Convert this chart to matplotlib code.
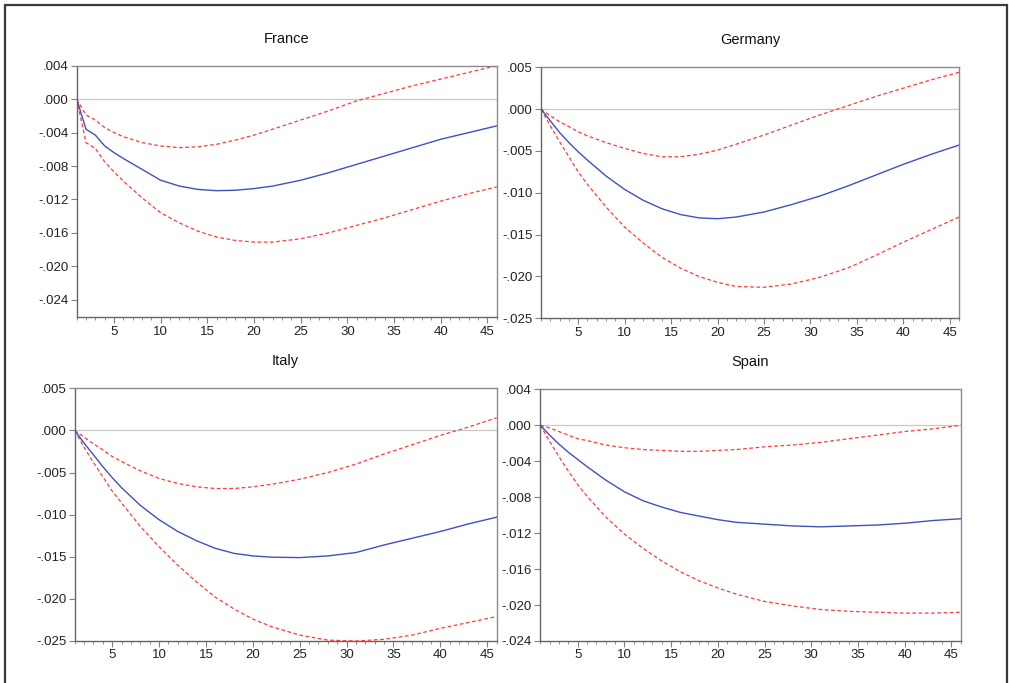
import matplotlib
matplotlib.use("Agg")
import matplotlib.pyplot as plt
from matplotlib.patches import Rectangle
from matplotlib.ticker import FuncFormatter, MultipleLocator

plt.rcParams['font.family'] = ['Liberation Sans', 'DejaVu Sans']

# horizon points
steps = [1, 2, 3, 4, 5, 6, 8, 10, 12, 14, 16, 18, 20, 22, 25, 28, 31, 34, 37, 40, 43, 46]

# France
fr_resp = [0, -0.0036, -0.0043, -0.0056, -0.0064, -0.0071, -0.0084, -0.0097, -0.0104, -0.0108, -0.01095,
           -0.0109, -0.0107, -0.0104, -0.0097, -0.0088, -0.0078, -0.0068, -0.0058, -0.0048, -0.0040, -0.0032]
fr_up = [0, -0.0019, -0.0025, -0.0034, -0.0040, -0.0045, -0.0052, -0.0056, -0.0058, -0.0057, -0.0054,
         -0.0049, -0.0043, -0.0036, -0.0025, -0.0014, -0.0002, 0.0007, 0.0016, 0.0024, 0.0032, 0.0040]
fr_lo = [0, -0.0052, -0.0059, -0.0075, -0.0087, -0.0098, -0.0118, -0.0136, -0.0148, -0.0158, -0.0165,
         -0.0169, -0.0171, -0.0171, -0.0167, -0.0160, -0.0151, -0.0142, -0.0132, -0.0122, -0.0113, -0.0105]

# Germany
de_resp = [0, -0.0014, -0.0028, -0.0040, -0.0051, -0.0061, -0.0080, -0.0096, -0.0109, -0.0119, -0.0126,
           -0.0130, -0.0131, -0.0129, -0.0123, -0.0114, -0.0104, -0.0092, -0.0079, -0.0066, -0.0054, -0.0043]
de_up = [0, -0.0008, -0.0015, -0.0021, -0.0027, -0.0032, -0.0040, -0.0047, -0.0053, -0.0057, -0.0057,
         -0.0054, -0.0049, -0.0042, -0.0031, -0.0019, -0.0007, 0.0004, 0.0015, 0.0025, 0.0035, 0.0044]
de_lo = [0, -0.0020, -0.0039, -0.0057, -0.0075, -0.0090, -0.0117, -0.0141, -0.0160, -0.0177, -0.0190,
         -0.0200, -0.0207, -0.0212, -0.0213, -0.0209, -0.0201, -0.0190, -0.0175, -0.0159, -0.0144, -0.0129]

# Italy
it_resp = [0, -0.0015, -0.0029, -0.0043, -0.0056, -0.0068, -0.0089, -0.0106, -0.0120, -0.0131, -0.0140,
           -0.0146, -0.0149, -0.01505, -0.0151, -0.0149, -0.0145, -0.0136, -0.0128, -0.0120, -0.0111, -0.0103]
it_up = [0, -0.0008, -0.0016, -0.0023, -0.0031, -0.0037, -0.0048, -0.0057, -0.0063, -0.0067, -0.0069,
         -0.0069, -0.0067, -0.0064, -0.0058, -0.0050, -0.0040, -0.0028, -0.0017, -0.0006, 0.0004, 0.0015]
it_lo = [0, -0.0020, -0.0038, -0.0055, -0.0072, -0.0086, -0.0114, -0.0138, -0.0160, -0.0180, -0.0198,
         -0.0212, -0.0224, -0.0233, -0.0243, -0.0249, -0.0250, -0.0248, -0.0243, -0.0235, -0.0228, -0.0221]

# Spain
es_resp = [0, -0.0011, -0.0021, -0.0030, -0.0038, -0.0046, -0.0061, -0.0074, -0.0084, -0.0091, -0.0097,
           -0.0101, -0.0105, -0.0108, -0.0110, -0.0112, -0.0113, -0.0112, -0.0111, -0.0109, -0.0106, -0.0104]
es_up = [0, -0.0003, -0.0007, -0.0011, -0.0015, -0.0017, -0.0022, -0.0025, -0.0027, -0.0028, -0.0029,
         -0.0029, -0.0028, -0.0027, -0.0024, -0.0022, -0.0019, -0.0015, -0.0011, -0.0007, -0.0004, 0.0]
es_lo = [0, -0.0018, -0.0035, -0.0051, -0.0066, -0.0079, -0.0102, -0.0121, -0.0137, -0.0151, -0.0163,
         -0.0173, -0.0181, -0.0188, -0.0196, -0.0201, -0.0205, -0.0207, -0.0208, -0.0209, -0.0209, -0.0208]

panels = [
    ("France", fr_resp, fr_up, fr_lo, (-0.0261, 0.004), 0.004, [0.0760, 0.5354, 0.4163, 0.3684]),
    ("Germany", de_resp, de_up, de_lo, (-0.025, 0.005), 0.005, [0.5362, 0.5340, 0.4143, 0.3675]),
    ("Italy", it_resp, it_up, it_lo, (-0.025, 0.005), 0.005, [0.0740, 0.0615, 0.4182, 0.3700]),
    ("Spain", es_resp, es_up, es_lo, (-0.024, 0.004), 0.004, [0.5355, 0.0615, 0.4167, 0.3685]),
]

BLUE = '#3f51c0'
RED = '#ff3b3b'


def fmt(v, pos):
    s = f"{v:.3f}"
    if abs(v) < 1e-9:
        return ".000"
    return s.replace("0.", ".", 1)


fig = plt.figure(figsize=(10.09, 6.83), dpi=100)

for name, resp, up, lo, ylim, step, rect in panels:
    ax = fig.add_axes(rect)
    ax.axhline(0, color='#c8c8c8', lw=0.9, zorder=1)
    ax.plot(steps, up, color=RED, lw=0.9, dashes=(3, 2), zorder=3)
    ax.plot(steps, lo, color=RED, lw=0.9, dashes=(3, 2), zorder=3)
    ax.plot(steps, resp, color=BLUE, lw=1.0, zorder=4)
    ax.set_xlim(1, 46)
    ax.set_ylim(*ylim)
    ax.xaxis.set_major_locator(MultipleLocator(5))
    ax.xaxis.set_minor_locator(MultipleLocator(1))
    ax.yaxis.set_major_locator(MultipleLocator(step))
    ax.yaxis.set_major_formatter(FuncFormatter(fmt))
    ax.tick_params(axis='both', which='major', direction='out', length=4, width=0.8,
                   color='#808080', labelsize=9.5, labelcolor='#222222', pad=2)
    ax.tick_params(axis='x', which='minor', direction='out', length=2.5, width=0.7, color='#909090')
    for side in ['top', 'right']:
        ax.spines[side].set_color('#8c8c8c')
        ax.spines[side].set_linewidth(1.0)
    for side in ['left', 'bottom']:
        ax.spines[side].set_color('#666666')
        ax.spines[side].set_linewidth(1.0)
    ax.set_title(name, fontsize=10.5, pad=16.5, color='#111111')

# outer frame around the whole graphic
fig.patches.append(Rectangle((5 / 1009, -0.02), 1002 / 1009, 1 - 5 / 683 + 0.02,
                             transform=fig.transFigure, fill=False,
                             edgecolor='#3a3a3a', lw=1.6))

plt.savefig("out.png", dpi=100)
